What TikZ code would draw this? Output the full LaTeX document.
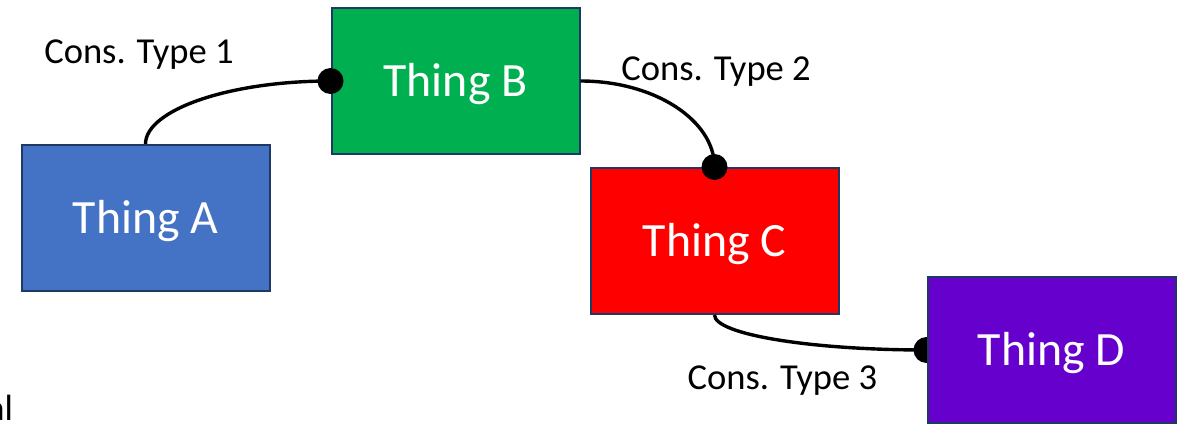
\documentclass[tikz,border=0pt]{standalone}
\usepackage{fontspec}
\setmainfont{Carlito}
\usetikzlibrary{positioning,backgrounds}
\definecolor{thingblue}{RGB}{68,114,196}
\definecolor{thinggreen}{RGB}{0,176,80}
\definecolor{thingred}{RGB}{255,0,0}
\definecolor{thingpurple}{RGB}{102,0,204}
\definecolor{boxline}{RGB}{32,56,100}

\begin{document}
\begin{tikzpicture}[
    every node/.style={align=center},
    thing/.style={rectangle, minimum width=6.2cm, minimum height=3.65cm, text height=1cm, text depth=0.23cm, draw=boxline, line width=0.05cm, text=white, font=\fontsize{34}{40}\selectfont},
    cons/.style={anchor=base, font=\fontsize{26}{31}\selectfont},
    link/.style={line width=0.085cm},
    joint/.style={fill=black}
]
\useasboundingbox (0,0) rectangle (29.625,-10.625);

% Things
\node[thing, fill=thingblue] (A) at (3.6375,-5.45) {Thing A};
\node[thing, fill=thinggreen, right=1.5cm of A, yshift=3.425cm] (B) {Thing B};
\node[thing, fill=thingred, right=0.225cm of B, yshift=-4cm] (C) {Thing C};
\node[thing, fill=thingpurple, right=2.175cm of C, yshift=-2.725cm] (D) {Thing D};

% Constraints
\draw[link] (A.north) .. controls +(0,0.84) and +(-2.57,0) .. (B.west);
\draw[link] (B.east) .. controls +(1.85,0) and +(0,1.17) .. (C.north);
\draw[link] (C.south) .. controls +(0,-0.48) and +(-2.93,0) .. (D.west);
\fill[joint] (B.west) circle (0.325cm);
\fill[joint] (C.north) circle (0.325cm);
\begin{scope}[on background layer]
\fill[joint] (D.west) circle (0.325cm);
\end{scope}

% Labels
\node[cons] (t1) at (3.475,-1.6) {Cons. Type 1};
\node[cons] (t2) at (17.9,-2.0) {Cons. Type 2};
\node[cons] (t3) at (19.56,-9.725) {Cons. Type 3};
\node[cons, anchor=base east, inner sep=0pt] (cut) at (0.33,-10.5) {al};

\end{tikzpicture}
\end{document}
